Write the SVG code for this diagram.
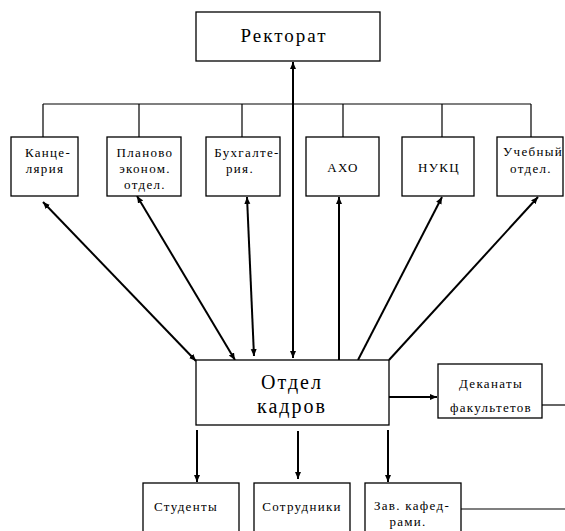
<svg xmlns="http://www.w3.org/2000/svg" width="565" height="531" viewBox="0 0 565 531" font-family="Liberation Serif, Times New Roman, serif">
  <style>
    .box { fill: #fff; stroke: #000; stroke-width: 1.3; }
    text { font-family: "Liberation Serif", "Times New Roman", Times, serif; fill: #000; text-anchor: middle; }
    .s { font-size: 13px; letter-spacing: 1.3px; }
    .big { font-size: 20px; letter-spacing: 2px; }
    .thin { stroke: #000; stroke-width: 1.2; fill: none; }
    .arr { stroke: #000; stroke-width: 2; fill: none; }
  </style>
  <defs>
    <marker id="head" markerUnits="userSpaceOnUse" markerWidth="8" markerHeight="8" refX="7" refY="3" orient="auto-start-reverse">
      <path d="M0,0 L7,3 L0,6 Z" fill="#000"/>
    </marker>
  </defs>

  <!-- connectors -->
  <g id="connectors">
    <!-- tree bus under the rectorate -->
    <path class="thin" d="M43,104 H531 M43,104 V137 M139,104 V137 M242,104 V137 M343,104 V137 M442,104 V137 M531,104 V137"/>
    <!-- rectorate <-> HR department -->
    <line class="arr" x1="293" y1="62" x2="293" y2="358" marker-start="url(#head)" marker-end="url(#head)"/>
    <!-- two-way links to departments -->
    <line class="arr" x1="43" y1="202" x2="196" y2="361" marker-start="url(#head)" marker-end="url(#head)"/>
    <line class="arr" x1="137" y1="196" x2="235" y2="360" marker-start="url(#head)" marker-end="url(#head)"/>
    <line class="arr" x1="247" y1="197" x2="254" y2="356" marker-start="url(#head)" marker-end="url(#head)"/>
    <!-- one-way links up to departments -->
    <line class="arr" x1="339" y1="360" x2="339" y2="197" marker-end="url(#head)"/>
    <line class="arr" x1="358" y1="360" x2="442" y2="197" marker-end="url(#head)"/>
    <line class="arr" x1="389" y1="360" x2="538" y2="197" marker-end="url(#head)"/>
    <!-- HR to deans -->
    <line class="arr" x1="389" y1="397" x2="437" y2="397" marker-end="url(#head)"/>
    <line class="thin" x1="542" y1="405" x2="565" y2="405"/>
    <!-- HR down to students, staff, heads of chairs -->
    <line class="arr" x1="197" y1="430" x2="197" y2="482" marker-end="url(#head)"/>
    <line class="arr" x1="298" y1="431" x2="298" y2="479" marker-end="url(#head)"/>
    <line class="arr" x1="388" y1="430" x2="388" y2="482" marker-end="url(#head)"/>
    <line class="thin" x1="461" y1="509" x2="565" y2="509"/>
  </g>

  <g id="rectorate">
    <rect class="box" x="196" y="12" width="184" height="49"/>
    <text class="big" x="284" y="42" style="font-size:19px">Ректорат</text>
  </g>

  <g id="chancellery">
    <rect class="box" x="11" y="137" width="67" height="59"/>
    <text class="s" x="48" y="157">Канце-</text>
    <text class="s" x="45" y="173">лярия</text>
  </g>

  <g id="planning">
    <rect class="box" x="107" y="137" width="74" height="59"/>
    <text class="s" x="145" y="157">Планово</text>
    <text class="s" x="145" y="173">эконом.</text>
    <text class="s" x="145" y="189">отдел.</text>
  </g>

  <g id="accounting">
    <rect class="box" x="206" y="137" width="74" height="59"/>
    <text class="s" x="247" y="157">Бухгалте-</text>
    <text class="s" x="240" y="173">рия.</text>
  </g>

  <g id="aho">
    <rect class="box" x="306" y="137" width="73" height="59"/>
    <text class="s" x="343" y="172">АХО</text>
  </g>

  <g id="nukc">
    <rect class="box" x="402" y="137" width="72" height="59"/>
    <text class="s" x="439" y="172">НУКЦ</text>
  </g>

  <g id="study-office">
    <rect class="box" x="497" y="137" width="66" height="59"/>
    <text class="s" x="533" y="156">Учебный</text>
    <text class="s" x="531" y="173">отдел.</text>
  </g>

  <g id="hr">
    <rect class="box" x="196" y="360" width="193" height="65"/>
    <text class="big" x="292" y="389">Отдел</text>
    <text class="big" x="292" y="413">кадров</text>
  </g>

  <g id="deans">
    <rect class="box" x="438" y="364" width="104" height="54"/>
    <text class="s" x="491" y="388">Деканаты</text>
    <text class="s" x="491" y="412">факультетов</text>
  </g>

  <g id="students">
    <rect class="box" x="143" y="483" width="96" height="60"/>
    <text class="s" x="186" y="511">Студенты</text>
  </g>

  <g id="staff">
    <rect class="box" x="254" y="483" width="96" height="60"/>
    <text class="s" x="302" y="511">Сотрудники</text>
  </g>

  <g id="chair-heads">
    <rect class="box" x="365" y="483" width="96" height="60"/>
    <text class="s" x="412" y="510">Зав. кафед-</text>
    <text class="s" x="408" y="526">рами.</text>
  </g>
</svg>
